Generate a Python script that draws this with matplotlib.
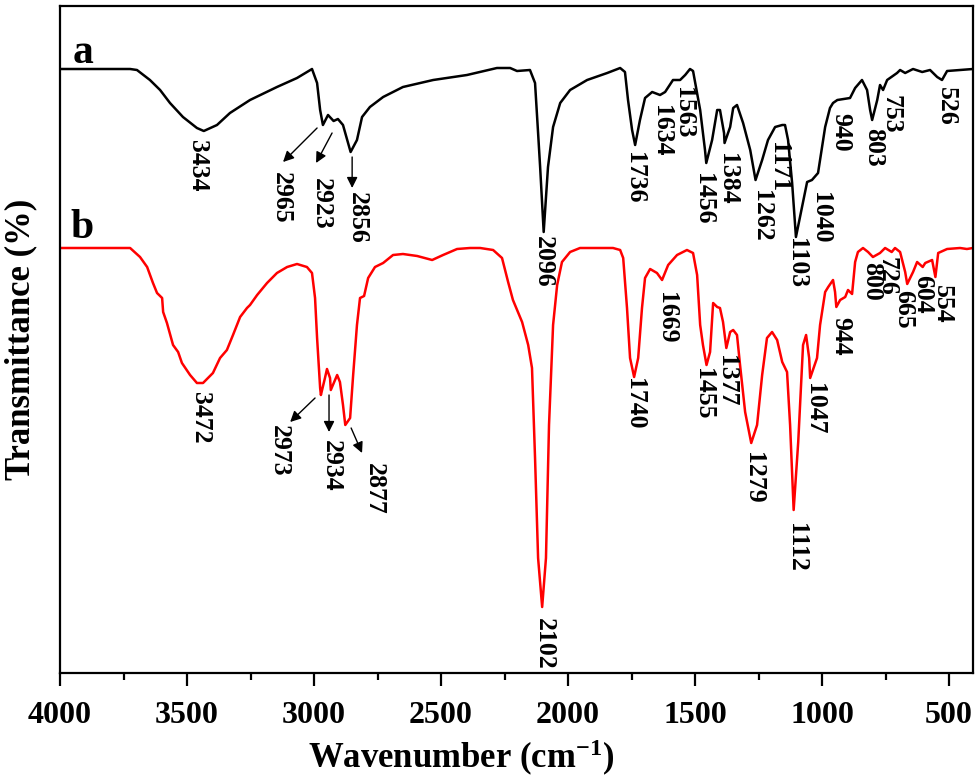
import matplotlib
matplotlib.use("Agg")
import matplotlib.pyplot as plt
from matplotlib.ticker import MultipleLocator

# FTIR traces: wavenumber (cm-1) and transmittance (a.u.)
wn_a = [4000, 3724, 3697, 3646, 3606, 3567, 3516, 3461, 3434, 3382, 3331, 3252,
        3146, 3067, 3008, 2988, 2976, 2965, 2945, 2923, 2906, 2886, 2866, 2856,
        2831, 2811, 2780, 2728, 2650, 2531, 2398, 2280, 2228, 2201, 2150, 2130,
        2118, 2110, 2096, 2079, 2059, 2031, 1992, 1925, 1846, 1795, 1776, 1764,
        1748, 1736, 1717, 1697, 1669, 1638, 1618, 1587, 1559, 1539, 1520, 1508,
        1480, 1461, 1456, 1433, 1413, 1402, 1386, 1384, 1362, 1350, 1335, 1311,
        1283, 1262, 1236, 1213, 1185, 1157, 1146, 1134, 1118, 1103, 1079, 1059,
        1040, 1016, 988, 969, 957, 940, 890, 870, 843, 823, 811, 803, 783, 772,
        760, 744, 705, 693, 673, 642, 606, 575, 547, 528, 508, 457, 406]
tr_a = [604, 604, 603, 593, 583, 570, 556, 545, 542, 548, 560, 573,
        586, 595, 604, 590, 563, 548, 558, 552, 554, 548, 530, 521,
        533, 556, 566, 576, 586, 593, 598, 605, 605, 602, 603, 590,
        540, 506, 441, 506, 546, 570, 583, 593, 600, 605, 601, 573,
        543, 528, 553, 575, 581, 578, 581, 593, 593, 598, 604, 602,
        563, 523, 510, 533, 563, 563, 540, 530, 546, 565, 568, 550,
        523, 493, 513, 533, 546, 548, 548, 533, 490, 436, 466, 491,
        493, 500, 546, 565, 570, 573, 575, 585, 593, 583, 563, 553, 573, 588,
        583, 593, 600, 603, 600, 604, 601, 603, 596, 593, 602, 603, 604]

wn_b = [4000, 3724, 3685, 3657, 3634, 3618, 3598, 3594, 3579, 3555, 3535, 3520,
        3488, 3461, 3437, 3398, 3370, 3343, 3319, 3291, 3264, 3252, 3224, 3185,
        3146, 3106, 3067, 3028, 3008, 2996, 2988,
        2976, 2973, 2957, 2949, 2937, 2934, 2909, 2898, 2886, 2877, 2858, 2846,
        2831, 2819, 2803, 2787, 2760, 2728, 2689, 2650, 2594, 2535, 2492, 2437,
        2386, 2346, 2295, 2260, 2236, 2217, 2181, 2157, 2142, 2130, 2118, 2102,
        2087, 2075, 2059, 2043, 2024, 1992, 1953, 1823, 1795, 1783, 1768, 1756,
        1740, 1724, 1709, 1697, 1677, 1650, 1630, 1606, 1571, 1532, 1508, 1492,
        1480, 1469, 1455, 1441, 1429, 1413, 1402, 1390, 1377, 1362, 1350, 1335,
        1323, 1303, 1279, 1256, 1236, 1217, 1197, 1177, 1157, 1138, 1126, 1112,
        1094, 1075, 1063, 1051, 1047, 1020, 1008, 988, 976, 957, 949, 944,
        929, 909, 898, 882, 870, 859, 839, 819, 800, 772, 752, 726, 713, 693,
        673, 665, 642, 626, 604, 594, 567, 554, 543, 508, 457, 430, 406]
tr_b = [425, 425, 416, 406, 390, 380, 375, 361, 350, 328, 321, 310,
        298, 290, 290, 300, 315, 323, 338, 356, 365, 368, 378, 390,
        400, 406, 409, 406, 400, 375, 335,
        285, 278, 295, 304, 295, 283, 298, 291, 268, 248, 255, 298,
        348, 375, 377, 395, 406, 410, 418, 419, 417, 413, 418, 424,
        425, 425, 423, 415, 391, 373, 351, 328, 305, 215, 115, 66,
        115, 248, 348, 388, 411, 421, 425, 425, 423, 415, 365, 315,
        296, 315, 365, 395, 404, 400, 393, 408, 418, 423, 420, 398,
        348, 328, 308, 321, 370, 366, 365, 351, 325, 341, 343, 338,
        308, 261, 230, 248, 298, 335, 341, 333, 311, 301, 248, 163,
        231, 328, 338, 315, 295, 315, 348, 381, 386, 393, 381, 366,
        373, 376, 383, 379, 411, 421, 425, 421, 416, 420, 425, 421, 425, 421,
        401, 389, 401, 411, 406, 410, 413, 396, 420, 424, 425, 424, 425]

# peak labels: text, wavenumber and transmittance of the label top
peaks_a = ["3434", "2965", "2923", "2856", "2096", "1736", "1634", "1563", "1456",
           "1384", "1262", "1171", "1103", "1040", "940", "803", "753", "526"]
lab_x_a = [3457, 3130, 2972, 2831, 2098, 1740, 1634, 1547, 1465,
           1374, 1240, 1173, 1102, 1008, 925, 799, 728, 512]
lab_y_a = [533, 501, 495, 481, 437, 521, 568, 586, 500,
           520, 483, 531, 435, 481, 560, 545, 578, 586]

peaks_b = ["3472", "2973", "2934", "2877", "2102", "1740", "1669", "1455", "1377",
           "1279", "1112", "1047", "944", "800", "726", "665", "604", "554"]
lab_x_b = [3445, 3138, 2933, 2764, 2094, 1740, 1614, 1465, 1378,
           1272, 1100, 1028, 925, 807, 744, 681, 606, 528]
lab_y_b = [281, 248, 233, 210, 55, 295, 381, 305, 318,
           221, 150, 290, 356, 411, 416, 383, 398, 388]

# arrows (tail -> head) for the C-H stretch labels
arrows = [((2988, 545), (3122, 511)), ((2929, 540), (2992, 510)),
          ((2850, 516), (2850, 485)),
          ((2996, 275), (3094, 251)), ((2941, 278), (2941, 241)),
          ((2854, 245), (2811, 220))]

plt.rcParams["font.family"] = ["Liberation Serif", "DejaVu Serif"]
plt.rcParams["font.weight"] = "bold"
plt.rcParams["mathtext.fontset"] = "custom"
plt.rcParams["mathtext.rm"] = "Liberation Serif:bold"
plt.rcParams["mathtext.bf"] = "Liberation Serif:bold"
plt.rcParams["mathtext.default"] = "bf"

fig = plt.figure(figsize=(9.8, 7.79), dpi=100)
ax = fig.add_axes([60 / 980, 1 - 673 / 779, 913 / 980, 667 / 779])

ax.plot(wn_a, tr_a, color="black", lw=1.8, solid_joinstyle="round")
ax.plot(wn_b, tr_b, color="#ff0000", lw=1.8, solid_joinstyle="round")

for txt, x, y in zip(peaks_a + peaks_b, lab_x_a + lab_x_b, lab_y_a + lab_y_b):
    ax.text(x, y, txt, rotation=-90, ha="center", va="top", fontsize=18.5,
            fontweight="bold")
for tail, head in arrows:
    ax.annotate("", xy=head, xytext=tail,
                arrowprops=dict(arrowstyle="-|>", color="black", lw=1.0,
                                mutation_scale=16, shrinkA=0, shrinkB=0))

ax.text(3950, 610, "a", fontsize=30, fontweight="bold", va="baseline")
ax.text(3960, 435, "b", fontsize=30, fontweight="bold", va="baseline")

ax.set_xlim(4000, 406)
ax.set_ylim(0, 667)
ax.xaxis.set_major_locator(MultipleLocator(500))
ax.xaxis.set_minor_locator(MultipleLocator(250))
ax.tick_params(axis="x", which="major", direction="out", length=9.5, width=1.6,
               labelsize=23, pad=10.5)
ax.tick_params(axis="x", which="minor", direction="out", length=5, width=1.6)
ax.set_yticks([])
for lab in ax.get_xticklabels():
    lab.set_fontweight("bold")
for s in ax.spines.values():
    s.set_linewidth(1.6)

ax.set_xlabel("Wavenumber (cm$^{-1}$)", fontsize=25, fontweight="bold")
ax.xaxis.set_label_coords(0.44, -0.097)
ax.set_ylabel("Transmittance (%)", fontsize=25, fontweight="bold", labelpad=16)

fig.savefig("out.png", dpi=100, facecolor="white")
